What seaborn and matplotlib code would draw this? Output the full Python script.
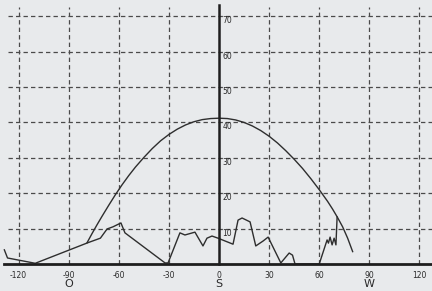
import numpy as np
import pandas as pd
import matplotlib
matplotlib.use("Agg")
import matplotlib.pyplot as plt
import seaborn as sns

# Sun path (elevation vs azimuth)
sun_az = [-79, -76, -73, -70, -66, -62, -58, -54, -50, -45, -40, -35, -30, -25, -20, -15, -10, -5,
          0, 5, 10, 15, 20, 25, 30, 35, 40, 45, 50, 55, 60, 65, 68, 71, 74, 77, 80]
sun_el = [6, 8.6, 11.1, 13.5, 16.6, 19.6, 22.4, 25, 27.4, 30.1, 32.6, 34.8, 36.6, 38.1, 39.3, 40.2, 40.8, 41.1,
          41.2, 41.1, 40.7, 40.0, 39.0, 37.7, 36.1, 34.2, 32.0, 29.6, 27.0, 24.1, 21.0, 17.7, 15.5, 13.1, 10.5, 7.3, 3.5]

# Horizon / obstacle profile
hor_az = [-128.5, -126.6, -114.4, -110, -78.6, -71, -67, -63.5, -58.7, -56.3, -32.3, -30.5,
          -23.4, -20.4, -14.4, -9.6, -7.2, -4.2, -0.6, 8.4, 11.4, 13.8, 18.6, 22, 26.4, 29.4,
          37, 42, 44, 45.5, 60, 64.7, 65.5, 66.5, 67.7, 68.9, 70, 70.7]
hor_el = [4.0, 1.7, 0.6, 0.2, 6.0, 7.3, 9.9, 10.5, 11.6, 8.8, 0.3, 0.3,
          8.8, 8.2, 9.0, 5.1, 7.3, 7.9, 7.3, 5.6, 12.4, 13.0, 11.9, 5.1, 6.5, 7.6,
          0.3, 3.1, 2.5, 0.0, 0.0, 6.8, 5.9, 7.6, 5.4, 7.3, 5.4, 13.3]

x_ticks = [-120, -90, -60, -30, 0, 30, 60, 90, 120]
y_ticks = [10, 20, 30, 40, 50, 60, 70]
dir_pos = [-90, 0, 90]
dir_labels = ["O", "S", "W"]

bg = "#e8eaec"
W, H = 432, 291
fig = plt.figure(figsize=(W / 100, H / 100), dpi=100, facecolor=bg)
ax = fig.add_axes([0, 27 / H, 1, 264 / H])
ax.set_facecolor(bg)

ax.set_xlim(-131.1, 127.5)
ax.set_ylim(0, 74.6)

# grid
for xv in x_ticks:
    if xv != 0:
        ax.axvline(xv, ymax=0.975, color="#4a4a4a", lw=0.9, ls=(0, (3.5, 2.5)), zorder=1)
for yv in y_ticks:
    ax.axhline(yv, xmin=0.018, color="#4a4a4a", lw=0.9, ls=(0, (3.5, 2.5)), zorder=1)

sun_df = pd.DataFrame({"az": sun_az, "el": sun_el})
hor_df = pd.DataFrame({"az": hor_az, "el": hor_el})
sns.lineplot(data=sun_df, x="az", y="el", ax=ax, color="#2e2e2e", lw=1.0, sort=False, estimator=None, zorder=3)
sns.lineplot(data=hor_df, x="az", y="el", ax=ax, color="#2e2e2e", lw=1.0, sort=False, estimator=None, zorder=3)

# spines as axes lines
for s in ["top", "right"]:
    ax.spines[s].set_visible(False)
ax.spines["left"].set_position(("data", 0))
ax.spines["left"].set_bounds(0, 73.2)
ax.spines["left"].set_linewidth(1.8)
ax.spines["left"].set_color("#1e1e1e")
ax.spines["bottom"].set_bounds(-128.5, 127.5)
ax.spines["bottom"].set_linewidth(2.0)
ax.spines["bottom"].set_color("#1e1e1e")
ax.spines["bottom"].set_zorder(4)
ax.spines["left"].set_zorder(4)

ax.set_xticks(x_ticks)
ax.set_xticklabels([str(v) for v in x_ticks])
ax.set_yticks(y_ticks)
ax.set_yticklabels([str(v) for v in y_ticks])
ax.tick_params(axis="x", length=0, pad=5, labelsize=5.5, labelcolor="#2a2a2a")
ax.tick_params(axis="y", length=0, pad=-2.5, labelsize=5.5, labelcolor="#2a2a2a")
for lab in ax.get_yticklabels():
    lab.set_horizontalalignment("left")
    lab.set_verticalalignment("top")
ax.set_xlabel("")
ax.set_ylabel("")

trans = ax.get_xaxis_transform()
for p, t in zip(dir_pos, dir_labels):
    ax.text(p, -0.075, t, transform=trans, ha="center", va="center", fontsize=8, color="#2a2a2a")

fig.savefig("out.png", dpi=100, facecolor=bg)
